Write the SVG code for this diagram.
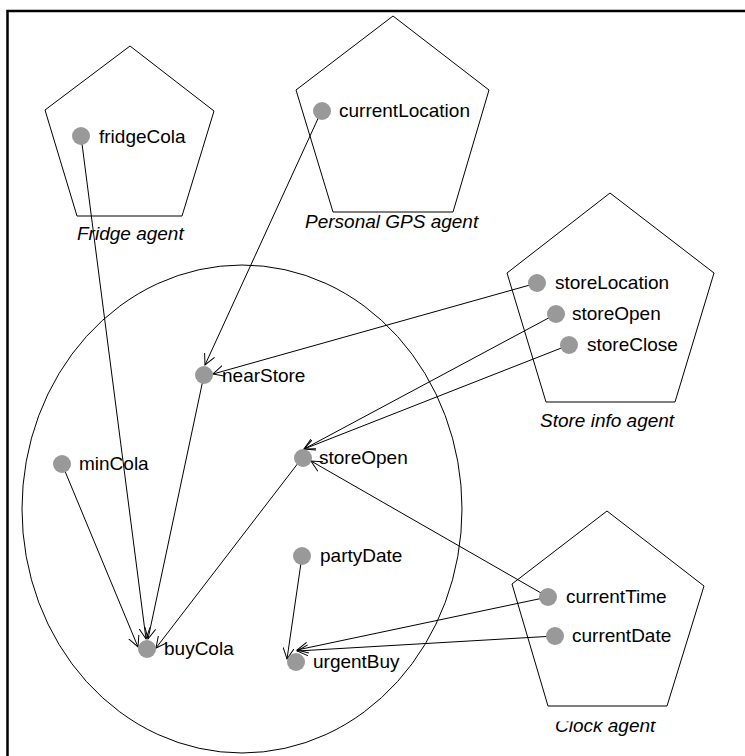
<svg xmlns="http://www.w3.org/2000/svg" width="745" height="756" viewBox="0 0 745 756">
  <style>
    .frame { fill: none; stroke: #000; stroke-width: 2.5; }
    .agent { fill: none; stroke: #000; stroke-width: 1; }
    .scope { fill: none; stroke: #000; stroke-width: 1; }
    .dot { fill: #999; }
    .lbl { font-family: "Liberation Sans", Arial, sans-serif; font-size: 19px; fill: #000; }
    .agent-name { font-family: "Liberation Sans", Arial, sans-serif; font-size: 19px; font-style: italic; fill: #000; }
    .link { fill: none; stroke: #000; stroke-width: 1; marker-end: url(#vee); }
  </style>
  <defs>
    <marker id="vee" markerUnits="userSpaceOnUse" viewBox="0 0 12 12" refX="11" refY="6" markerWidth="12" markerHeight="12" orient="auto">
      <path d="M0,0.5 L11,6 L0,11.5" fill="none" stroke="#000" stroke-width="1"/>
    </marker>
    <!-- the clock label is cut off along its top edge -->
    <clipPath id="clockClip">
      <rect x="540" y="721.5" width="140" height="20"/>
    </clipPath>
  </defs>

  <rect width="745" height="756" fill="#fff"/>

  <!-- outer frame: only top and left edges fall inside the canvas -->
  <path class="frame" d="M7.5,756 V11 H745"/>

  <!-- scope of the shopping agent -->
  <ellipse id="shopperScope" class="scope" cx="242" cy="509" rx="220" ry="244"/>

  <!-- agents -->
  <g id="fridgeAgent">
    <polygon class="agent" points="130,46 214,111 182,216 77,216 45,110"/>
    <text class="agent-name" x="77" y="240">Fridge agent</text>
  </g>
  <g id="gpsAgent">
    <polygon class="agent" points="393,16 489,90 453,212 333,212 296,90"/>
    <text class="agent-name" x="305" y="228">Personal GPS agent</text>
  </g>
  <g id="storeInfoAgent">
    <polygon class="agent" points="610,193 714,273 675,402 546,402 507,273"/>
    <text class="agent-name" x="540" y="427">Store info agent</text>
  </g>
  <g id="clockAgent">
    <polygon class="agent" points="607,511 704,586 667,706 548,706 512,584"/>
    <text class="agent-name" x="555" y="732" clip-path="url(#clockClip)">Clock agent</text>
  </g>

  <!-- connectors -->
  <g id="connectors">
    <line class="link" x1="81" y1="136" x2="146" y2="639"/>
    <line class="link" x1="321" y1="112" x2="205" y2="365"/>
    <line class="link" x1="537" y1="283" x2="213" y2="374"/>
    <line class="link" x1="556" y1="314" x2="304" y2="449"/>
    <line class="link" x1="569" y1="345" x2="304" y2="449"/>
    <line class="link" x1="548" y1="597" x2="311" y2="461"/>
    <line class="link" x1="62" y1="464" x2="138" y2="647"/>
    <line class="link" x1="204" y1="375" x2="148" y2="639"/>
    <line class="link" x1="302" y1="458" x2="156" y2="648"/>
    <line class="link" x1="302" y1="556" x2="287" y2="659"/>
    <line class="link" x1="548" y1="597" x2="297" y2="650"/>
    <line class="link" x1="555" y1="636" x2="297" y2="651"/>
  </g>

  <!-- variables -->
  <g id="fridgeCola">
    <circle class="dot" cx="81" cy="136" r="9"/>
    <text class="lbl" x="99" y="143">fridgeCola</text>
  </g>
  <g id="currentLocation">
    <circle class="dot" cx="322" cy="111" r="9"/>
    <text class="lbl" x="339" y="117">currentLocation</text>
  </g>
  <g id="storeLocation">
    <circle class="dot" cx="537" cy="283" r="9"/>
    <text class="lbl" x="555" y="289">storeLocation</text>
  </g>
  <g id="storeOpenInfo">
    <circle class="dot" cx="556" cy="314" r="9"/>
    <text class="lbl" x="572" y="320">storeOpen</text>
  </g>
  <g id="storeClose">
    <circle class="dot" cx="569" cy="345" r="9"/>
    <text class="lbl" x="587" y="351">storeClose</text>
  </g>
  <g id="currentTime">
    <circle class="dot" cx="548" cy="597" r="9"/>
    <text class="lbl" x="566" y="603">currentTime</text>
  </g>
  <g id="currentDate">
    <circle class="dot" cx="555" cy="636" r="9"/>
    <text class="lbl" x="572" y="642">currentDate</text>
  </g>
  <g id="nearStore">
    <circle class="dot" cx="204" cy="375" r="9"/>
    <text class="lbl" x="222" y="382">nearStore</text>
  </g>
  <g id="storeOpen">
    <circle class="dot" cx="303" cy="458" r="9"/>
    <text class="lbl" x="319" y="464">storeOpen</text>
  </g>
  <g id="minCola">
    <circle class="dot" cx="62" cy="464" r="9"/>
    <text class="lbl" x="79" y="470">minCola</text>
  </g>
  <g id="buyCola">
    <circle class="dot" cx="147" cy="649" r="9"/>
    <text class="lbl" x="164" y="655">buyCola</text>
  </g>
  <g id="partyDate">
    <circle class="dot" cx="302" cy="556" r="9"/>
    <text class="lbl" x="320" y="562">partyDate</text>
  </g>
  <g id="urgentBuy">
    <circle class="dot" cx="296" cy="662" r="9"/>
    <text class="lbl" x="313" y="668">urgentBuy</text>
  </g>
</svg>
